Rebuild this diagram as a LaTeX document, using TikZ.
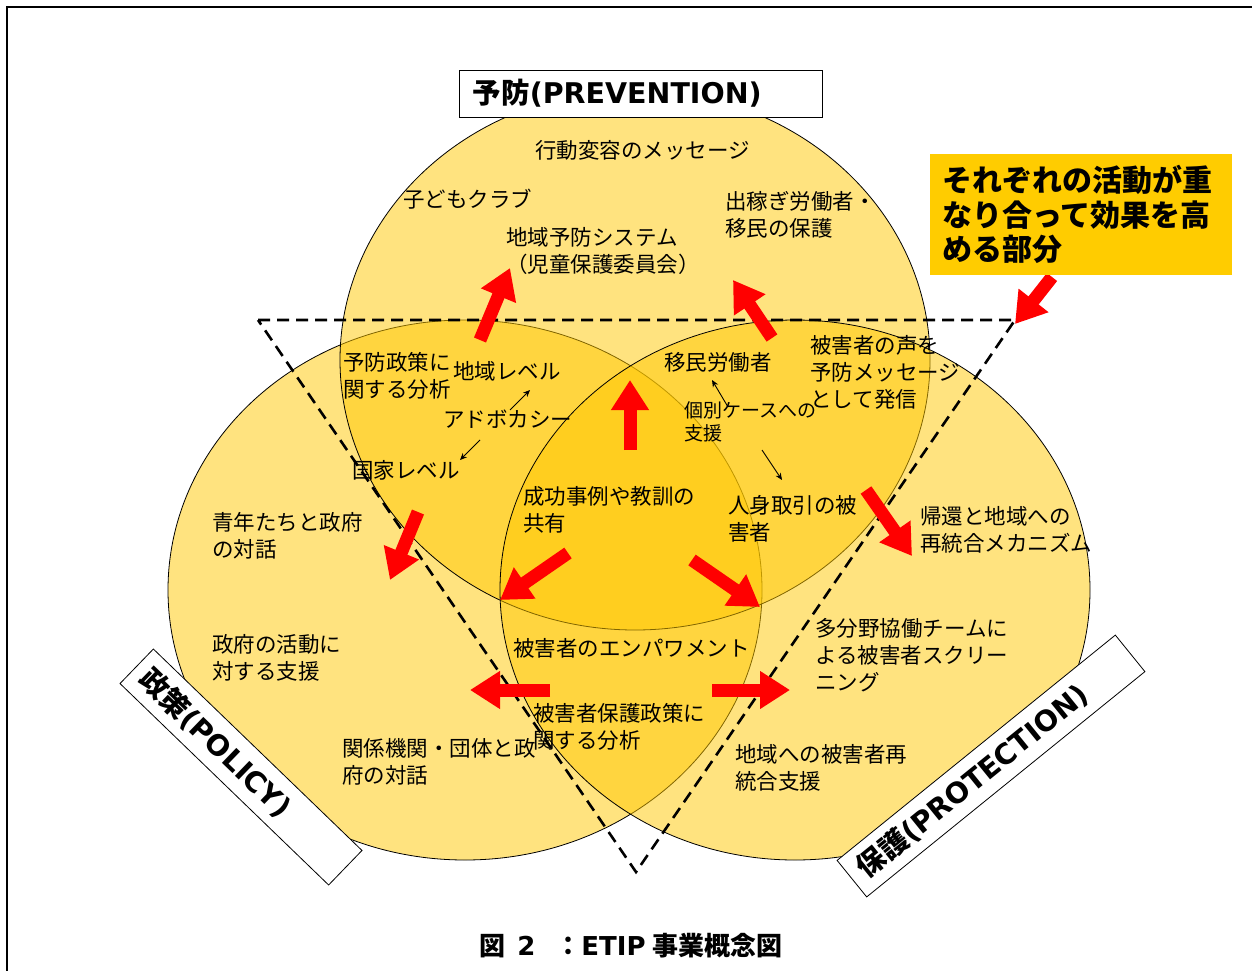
\documentclass[tikz,border=0pt]{standalone}
\usepackage{fontspec}
\setmainfont{Noto Sans CJK JP}
\newfontfamily\latfont{DejaVu Sans}
\usetikzlibrary{arrows.meta}
\definecolor{circfill}{RGB}{255,200,0}
\definecolor{calloutfill}{RGB}{255,204,0}
\definecolor{arrred}{RGB}{255,0,0}
\begin{document}
\begin{tikzpicture}[x=1pt,y=-1pt,
  circ/.style={fill=circfill, fill opacity=0.5, draw=black, line width=0.8pt},
  tri/.style={line width=2.6pt, dash pattern=on 12pt off 7pt},
  redarr/.style={draw=arrred, line width=13pt, -{Triangle[length=30pt,width=36pt]}},
  blkarr/.style={line width=0.9pt, -{Stealth[length=7pt,width=6pt]}},
  txt/.style={font=\fontsize{21.5}{27}\selectfont, align=left, inner sep=0pt, anchor=north west},
  smalltxt/.style={font=\fontsize{19}{23}\selectfont, align=left, inner sep=0pt, anchor=north west},
  lblbox/.style={draw, fill=white, line width=0.8pt, inner sep=0pt},
  lbltxt/.style={font=\bfseries\fontsize{28.5}{32}\selectfont}
]
\useasboundingbox (0,0) rectangle (1252,971);
\fill[white] (0,0) rectangle (1252,971);
\draw[line width=2pt] (7,971) -- (7,7) -- (1252,7);

% three overlapping areas
\path[circ] (465,590) ellipse [x radius=297pt, y radius=270pt];
\path[circ] (635,360) ellipse [x radius=295pt, y radius=270pt];
\path[circ] (795,590) ellipse [x radius=295pt, y radius=270pt];

% dashed triangle
\coordinate (tA) at (258,320);
\coordinate (tB) at (1015,320);
\coordinate (tC) at (636,872);
\draw[tri] (tA) -- (tB) -- (tC) -- cycle;

% red arrows
\coordinate (r1s) at (630,450);  \coordinate (r1e) at (630,380);
\coordinate (r2s) at (480,340);  \coordinate (r2e) at (510,268);
\coordinate (r3s) at (772,338);  \coordinate (r3e) at (733,280);
\coordinate (r4s) at (418,512);  \coordinate (r4e) at (390,580);
\coordinate (r5s) at (866,490);  \coordinate (r5e) at (912,556);
\coordinate (r6s) at (568,553);  \coordinate (r6e) at (500,600);
\coordinate (r7s) at (692,560);  \coordinate (r7e) at (760,607);
\coordinate (r8s) at (550,690);  \coordinate (r8e) at (470,690);
\coordinate (r9s) at (712,690);  \coordinate (r9e) at (790,690);
\coordinate (r10s) at (1052,277); \coordinate (r10e) at (1015,324);
\foreach \i in {1,...,10} \draw[redarr] (r\i s) -- (r\i e);

% small black arrows
\coordinate (b1s) at (510,410); \coordinate (b1e) at (530,390);
\coordinate (b2s) at (480,440); \coordinate (b2e) at (460,460);
\coordinate (b3s) at (728,407); \coordinate (b3e) at (712,380);
\coordinate (b4s) at (762,450); \coordinate (b4e) at (782,480);
\foreach \i in {1,...,4} \draw[blkarr] (b\i s) -- (b\i e);

% texts
\node[txt] (t1) at (535,140) {行動変容のメッセージ};
\node[txt] (t2) at (403,189) {子どもクラブ};
\node[txt] (t3) at (725,191) {出稼ぎ労働者・\\移民の保護};
\node[txt] (t4) at (506,227) {地域予防システム\\（児童保護委員会）};
\node[txt] (t5) at (343,352) {予防政策に\\関する分析};
\node[txt] (t6) at (453,361) {地域レベル};
\node[txt] (t7) at (443,410) {アドボカシー};
\node[txt] (t8) at (352,460) {国家レベル};
\node[txt] (t9) at (664,352) {移民労働者};
\node[txt] (t10) at (810,335) {被害者の声を\\予防メッセージ\\として発信};
\node[smalltxt] (t11) at (684,401) {個別ケースへの\\支援};
\node[txt] (t12) at (523,486) {成功事例や教訓の\\共有};
\node[txt] (t13) at (728,495) {人身取引の被\\害者};
\node[txt] (t14) at (212,512) {青年たちと政府\\の対話};
\node[txt] (t15) at (920,506) {帰還と地域への\\再統合メカニズム};
\node[txt] (t16) at (513,638) {被害者のエンパワメント};
\node[txt] (t17) at (815,618) {多分野協働チームに\\よる被害者スクリー\\ニング};
\node[txt] (t18) at (212,634) {政府の活動に\\対する支援};
\node[txt] (t19) at (533,703) {被害者保護政策に\\関する分析};
\node[txt] (t20) at (342,738) {関係機関・団体と政\\府の対話};
\node[txt] (t21) at (735,744) {地域への被害者再\\統合支援};

% label boxes
\node[lblbox, minimum width=363pt, minimum height=47pt] (prevbox) at (640.5,93.5) {};
\node[lbltxt, inner sep=0pt, anchor=west] (prev) at ([xshift=14pt]prevbox.west) {予防{\latfont(PREVENTION)}};
\node[lblbox, lbltxt, rotate=-44, minimum width=290pt, minimum height=48pt, text width=268pt, align=left] (policy) at (241,767) {政策{\latfont(POLICY)}};
\node[lblbox, lbltxt, rotate=39, minimum width=358pt, minimum height=47pt, text width=336pt, align=left] (protect) at (991,766) {保護{\latfont(PROTECTION)}};

% callout
\node[fill=calloutfill, minimum width=302pt, minimum height=121pt, inner sep=0pt] (callbox) at (1081,214.5) {};
\node[font=\bfseries\fontsize{30}{34.5}\selectfont, align=left, anchor=north west, inner sep=0pt] (calltxt) at (942,165) {それぞれの活動が重\\なり合って効果を高\\める部分};

% caption
\node[font=\bfseries\fontsize{26}{30}\selectfont, inner sep=0pt] (cap) at (631,946) {図\hspace{12pt}{\latfont 2}\hspace{20pt}：{\latfont ETIP}\hspace{7pt}事業概念図};
\end{tikzpicture}
\end{document}
